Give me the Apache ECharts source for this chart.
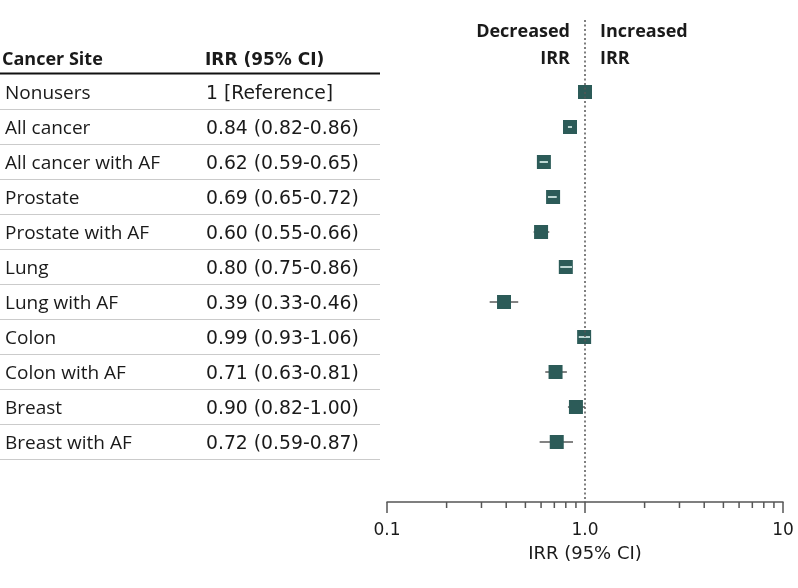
<!DOCTYPE html>
<html>
<head>
<meta charset="utf-8">
<script src="https://cdn.jsdelivr.net/npm/echarts@6/dist/echarts.min.js"></script>
<style>
html,body{margin:0;padding:0;background:#fff;}
#chart{width:798px;height:588px;}
</style>
</head>
<body>
<div id="chart"></div>
<script>
// ---- data ----
const categories = ['Nonusers','All cancer','All cancer with AF','Prostate','Prostate with AF','Lung','Lung with AF','Colon','Colon with AF','Breast','Breast with AF'];
const irrLabels = ['1 [Reference]','0.84 (0.82-0.86)','0.62 (0.59-0.65)','0.69 (0.65-0.72)','0.60 (0.55-0.66)','0.80 (0.75-0.86)','0.39 (0.33-0.46)','0.99 (0.93-1.06)','0.71 (0.63-0.81)','0.90 (0.82-1.00)','0.72 (0.59-0.87)'];
const irr   = [1, 0.84, 0.62, 0.69, 0.60, 0.80, 0.39, 0.99, 0.71, 0.90, 0.72];
const lower = [null, 0.82, 0.59, 0.65, 0.55, 0.75, 0.33, 0.93, 0.63, 0.82, 0.59];
const upper = [null, 0.86, 0.65, 0.72, 0.66, 0.86, 0.46, 1.06, 0.81, 1.00, 0.87];
const majorTickLabels = ['0.1','1.0','10'];
const minorTicks = [0.2,0.3,0.4,0.5,0.6,0.7,0.8,0.9,2,3,4,5,6,7,8,9];
const headers = ['Cancer Site','IRR (95% CI)'];
const directionLabels = ['Decreased\nIRR','Increased\nIRR'];
const axisTitle = 'IRR (95% CI)';

// ---- layout ----
const FONT = '"Open Sans", sans-serif';
const NUMFONT = '"DejaVu Sans", sans-serif';
const TXT = '#1a1a1a';
const BOX = '#2c5b58';
const Y_MIN = -2.057, Y_MAX = 11.714;

const chart = echarts.init(document.getElementById('chart'));

const forestData = irr.map((v, i) => [v, i, lower[i], upper[i]]);
const tableData = categories.map((c, i) => [1, i]);
const minorData = minorTicks.map(v => [v, Y_MAX]);

chart.setOption({
  animation: false,
  textStyle: {fontFamily: FONT},
  grid: {left: 387, right: 15, top: 20, bottom: 86, containLabel: false},
  xAxis: {
    type: 'log', logBase: 10, min: 0.1, max: 10,
    axisLine: {show: true, onZero: false, lineStyle: {color: '#555', width: 1.5}},
    axisTick: {show: true, length: 11, lineStyle: {color: '#555', width: 1.5}},
    splitLine: {show: false},
    axisLabel: {
      fontFamily: NUMFONT, fontSize: 17, color: TXT, margin: 20,
      formatter: v => majorTickLabels[Math.round(Math.log10(v)) + 1]
    },
    name: axisTitle, nameLocation: 'middle', nameGap: 43,
    nameTextStyle: {fontFamily: NUMFONT, fontSize: 18, color: TXT}
  },
  yAxis: {
    type: 'value', inverse: true, min: Y_MIN, max: Y_MAX, show: false
  },
  series: [
    {
      type: 'custom', name: 'minor', data: minorData, silent: true,
      renderItem: (params, api) => {
        const p = api.coord([api.value(0), api.value(1)]);
        return {type: 'line', shape: {x1: p[0], y1: p[1], x2: p[0], y2: p[1] + 6},
          style: {stroke: '#555', lineWidth: 1.5}};
      }
    },
    {
      type: 'custom', name: 'table', data: tableData, silent: true,
      renderItem: (params, api) => {
        const i = api.value(1);
        const y = api.coord([1, i])[1];
        const y2 = api.coord([1, i + 0.5])[1];
        return {type: 'group', children: [
          {type: 'text', style: {text: categories[i], x: 5, y: y + 2, verticalAlign: 'middle', align: 'left',
            fontFamily: FONT, fontSize: 19, fill: TXT}},
          {type: 'text', style: {text: irrLabels[i], x: 206, y: y + 2, verticalAlign: 'middle', align: 'left',
            fontFamily: NUMFONT, fontSize: 18.8, fill: TXT}},
          {type: 'line', shape: {x1: 0, y1: y2, x2: 380, y2: y2}, style: {stroke: '#cbcbcb', lineWidth: 1}}
        ]};
      }
    },
    {
      type: 'custom', name: 'forest', data: forestData,
      renderItem: (params, api) => {
        const v = api.value(0), i = api.value(1);
        const lo = lower[i], hi = upper[i];
        const c = api.coord([v, i]);
        const h = 7;
        const children = [];
        let a = null, b = null;
        if (lo != null) {
          a = api.coord([lo, i])[0]; b = api.coord([hi, i])[0];
          children.push({type: 'line', shape: {x1: a, y1: c[1], x2: b, y2: c[1]}, style: {stroke: '#5a5a5a', lineWidth: 1.5}});
        }
        children.push({type: 'rect', shape: {x: c[0] - h, y: c[1] - h, width: 2 * h, height: 2 * h}, style: {fill: BOX}});
        if (lo != null && a > c[0] - h && b < c[0] + h) {
          children.push({type: 'line', shape: {x1: a, y1: c[1], x2: b, y2: c[1]}, style: {stroke: '#bcd6d2', lineWidth: 2}});
        }
        return {type: 'group', children: children};
      },
      markLine: {
        silent: true, symbol: 'none', label: {show: false},
        lineStyle: {type: [2, 2.5], color: '#555', width: 1.5},
        data: [{xAxis: 1}]
      }
    }
  ],
  graphic: [
    {type: 'text', left: 2, top: 51, style: {text: headers[0], fontFamily: FONT, fontSize: 18, fontWeight: 'bold', fill: TXT}},
    {type: 'text', left: 205, top: 52, style: {text: headers[1], fontFamily: NUMFONT, fontSize: 17, fontWeight: 'bold', fill: TXT}},
    {type: 'line', shape: {x1: 0, y1: 73.5, x2: 380, y2: 73.5}, style: {stroke: '#111', lineWidth: 2}},
    {type: 'text', x: 570, y: 18, style: {text: directionLabels[0], align: 'right', lineHeight: 27, fontFamily: FONT, fontSize: 18, fontWeight: 'bold', fill: TXT}},
    {type: 'text', x: 600, y: 18, style: {text: directionLabels[1], align: 'left', lineHeight: 27, fontFamily: FONT, fontSize: 18, fontWeight: 'bold', fill: TXT}}
  ]
});
</script>
</body>
</html>
